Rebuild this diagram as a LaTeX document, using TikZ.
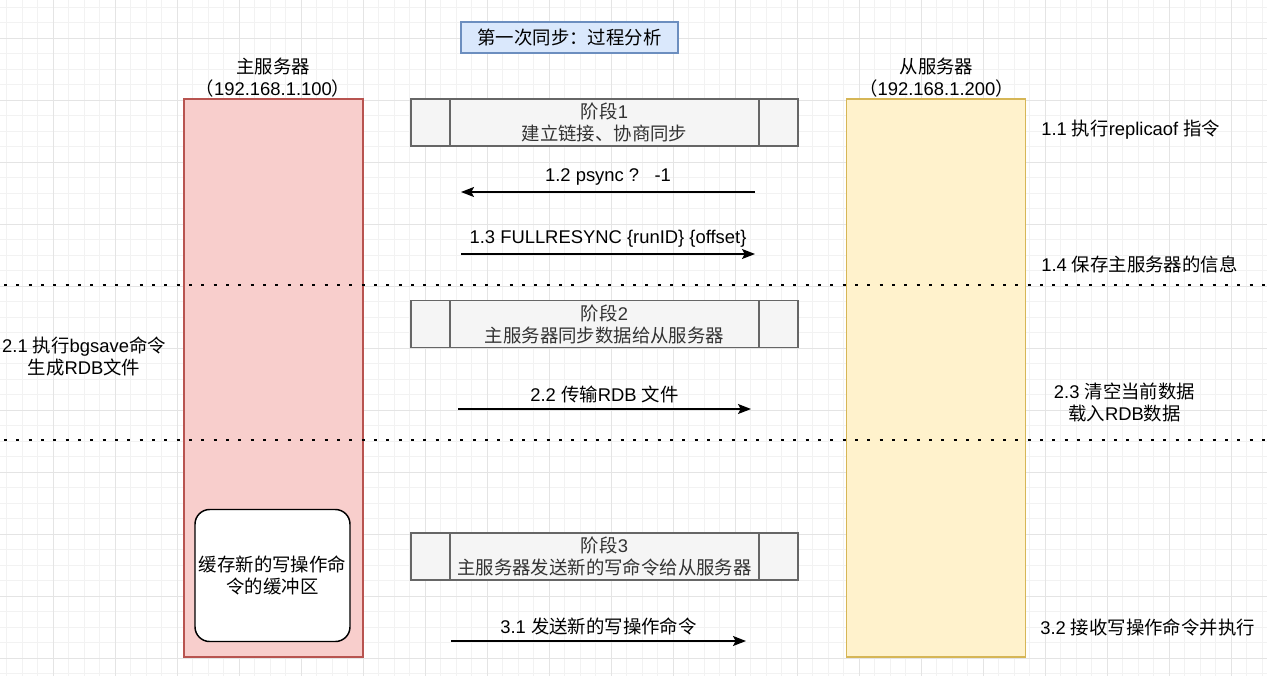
\documentclass[tikz,border=0pt]{standalone}
\usepackage{fontspec}
\setmainfont{Liberation Sans}
\newfontfamily\cjk{Noto Sans CJK SC}
\usetikzlibrary{arrows.meta}
\definecolor{masterfill}{HTML}{F8CECC}
\definecolor{masterline}{HTML}{B85450}
\definecolor{slavefill}{HTML}{FFF2CC}
\definecolor{slaveline}{HTML}{D6B656}
\definecolor{titlefill}{HTML}{DAE8FC}
\definecolor{titleline}{HTML}{6C8EBF}
\definecolor{stagefill}{HTML}{F5F5F5}
\definecolor{stageline}{HTML}{666666}
\definecolor{stagetext}{HTML}{333333}
\definecolor{gridminor}{HTML}{F2F2F2}
\definecolor{gridmajor}{HTML}{E4E4E4}
\tikzset{
  txt/.style={inner sep=0pt, align=center, font=\fontsize{13.8}{16.5}\selectfont},
  ltxt/.style={txt, anchor=west},
  titlebox/.style={txt, draw=titleline, fill=titlefill, line width=1.1pt, minimum width=162.75pt, minimum height=23.25pt},
  masterbox/.style={draw=masterline, fill=masterfill, line width=1.1pt, minimum width=134.25pt, minimum height=418.5pt},
  slavebox/.style={draw=slaveline, fill=slavefill, line width=1.1pt, minimum width=134.25pt, minimum height=418.5pt},
  stagebox/.style={txt, draw=stageline, fill=stagefill, text=stagetext, line width=1.1pt,
    minimum width=290.25pt, minimum height=35.25pt,
    path picture={
      \draw[stageline, line width=1.1pt]
        ([xshift=29.25pt]path picture bounding box.north west) -- ([xshift=29.25pt]path picture bounding box.south west)
        ([xshift=-29.25pt]path picture bounding box.north east) -- ([xshift=-29.25pt]path picture bounding box.south east);
    }},
  bufferbox/.style={txt, draw=black, fill=white, line width=1.1pt, rounded corners=11pt, minimum width=116.25pt, minimum height=99pt},
  msg/.style={line width=1pt, -{Stealth[length=9.75pt,width=7.5pt,inset=2pt]}},
  sep/.style={line width=2.2pt, dash pattern=on 2.2pt off 7.05pt, dash phase=-3pt},
  lbl/.style={txt, midway, yshift=11.25pt}
}
\begin{document}
\begin{tikzpicture}[x=0.75pt,y=-0.75pt]
\useasboundingbox (0,0) rectangle (1267,676);
\fill[white] (0,0) rectangle (1267,676);
% grid
\foreach \i in {0,...,81} {\draw[gridminor, line width=0.6pt] ({6.5+15.5*\i},0) -- ({6.5+15.5*\i},676);}
\foreach \j in {0,...,43} {\draw[gridminor, line width=0.6pt] (0,{7+15.5*\j}) -- (1267,{7+15.5*\j});}
\foreach \i in {0,...,19} {\draw[gridmajor, line width=0.6pt] ({53+62*\i},0) -- ({53+62*\i},676);}
\foreach \j in {0,...,10} {\draw[gridmajor, line width=0.6pt] (0,{38+62*\j}) -- (1267,{38+62*\j});}

% title
\node[titlebox] (title) at (569.5,37.5) {\cjk 第一次同步：过程分析};

% servers
\node[txt] (masterlbl) at (273,77.5) {{\cjk 主服务器}\\{\cjk （}192.168.1.100{\cjk ）}};
\node[txt] (slavelbl) at (936.5,78) {{\cjk 从服务器}\\{\cjk （}192.168.1.200{\cjk ）}};
\node[masterbox] (master) at (273.5,378) {};
\node[slavebox] (slave) at (936,378) {};

% separators
\coordinate (d1l) at (0,285);
\coordinate (d1r) at (1267,285);
\coordinate (d2l) at (0,440);
\coordinate (d2r) at (1267,440);
\draw[sep] (d1l) -- (d1r);
\draw[sep] (d2l) -- (d2r);

% stages
\node[stagebox] (stage1) at (604.5,122.5) {{\cjk 阶段}1\\{\cjk 建立链接、协商同步}};
\node[stagebox] (stage2) at (604.5,324) {{\cjk 阶段}2\\{\cjk 主服务器同步数据给从服务器}};
\node[stagebox] (stage3) at (604.5,556.5) {{\cjk 阶段}3\\{\cjk 主服务器发送新的写命令给从服务器}};

% buffer
\node[bufferbox] (buffer) at (272.5,575.5) {{\cjk 缓存新的写操作命}\\{\cjk 令的缓冲区}};

% messages
\coordinate (m12s) at (755,192);
\coordinate (m12e) at (461,192);
\coordinate (m13s) at (461,254);
\coordinate (m13e) at (755,254);
\coordinate (m22s) at (458,409);
\coordinate (m22e) at (751,409);
\coordinate (m31s) at (451,641);
\coordinate (m31e) at (746,641);
\draw[msg] (m12s) -- node[lbl] {1.2 psync ?\ \ \ -1} (m12e);
\draw[msg] (m13s) -- node[lbl] {1.3 FULLRESYNC \{runID\} \{offset\}} (m13e);
\draw[msg] (m22s) -- node[lbl] {2.2 {\cjk 传输}RDB {\cjk 文件}} (m22e);
\draw[msg] (m31s) -- node[lbl] {3.1 {\cjk 发送新的写操作命令}} (m31e);

% side notes
\node[txt] (n21) at (84,356.5) {2.1 {\cjk 执行}bgsave{\cjk 命令}\\{\cjk 生成}RDB{\cjk 文件}};
\node[ltxt] (n11) at (1041,130) {1.1 {\cjk 执行}replicaof {\cjk 指令}};
\node[ltxt] (n14) at (1041,264) {1.4 {\cjk 保存主服务器的信息}};
\node[txt] (n23) at (1124.5,402.5) {2.3 {\cjk 清空当前数据}\\{\cjk 载入}RDB{\cjk 数据}};
\node[ltxt] (n32) at (1040,627) {3.2 {\cjk 接收写操作命令并执行}};
\end{tikzpicture}
\end{document}
